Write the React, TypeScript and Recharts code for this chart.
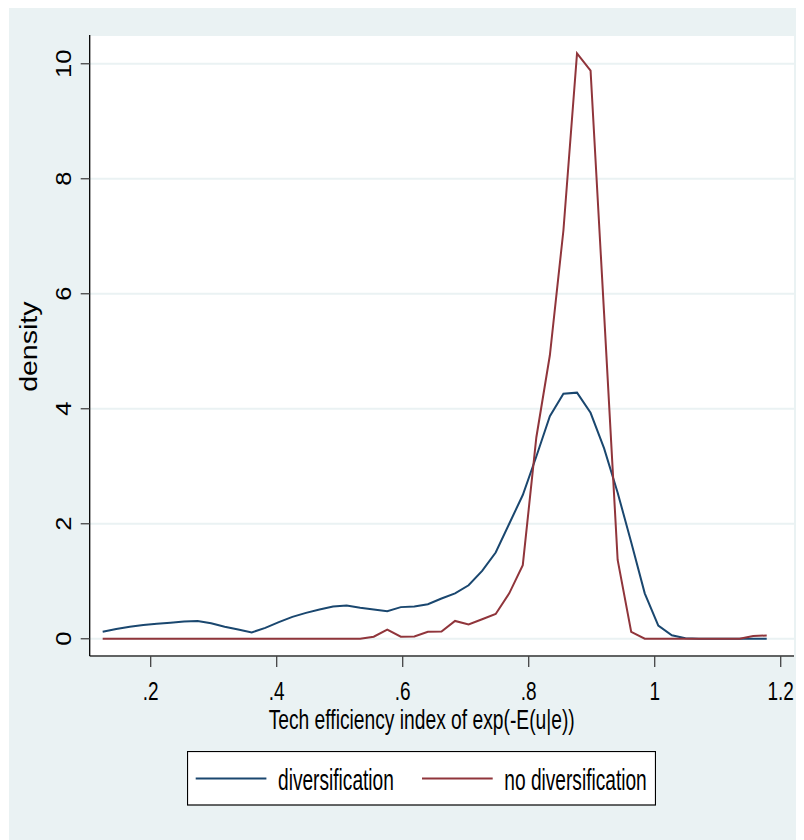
import React from 'react';
import { LineChart, Line, XAxis, YAxis, CartesianGrid, Legend, Label } from 'recharts';

// ---- data ----
const X_VALUES = [
  0.1238, 0.1453, 0.1668, 0.1883, 0.2098, 0.2314, 0.2529, 0.2744, 0.2959, 0.3174,
  0.3389, 0.3604, 0.3819, 0.4034, 0.4249, 0.4465, 0.468, 0.4895, 0.511, 0.5325,
  0.554, 0.5755, 0.597, 0.6185, 0.64, 0.6616, 0.6831, 0.7046, 0.7261, 0.7476,
  0.7691, 0.7906, 0.8121, 0.8336, 0.8551, 0.8767, 0.8982, 0.9197, 0.9412, 0.9627,
  0.9842, 1.0057, 1.0272, 1.0487, 1.0702, 1.0918, 1.1133, 1.1348, 1.1563, 1.1778,
];

const DIVERSIFICATION = [
  0.12, 0.17, 0.21, 0.24, 0.26, 0.28, 0.3, 0.31, 0.27, 0.21,
  0.16, 0.11, 0.19, 0.29, 0.38, 0.45, 0.51, 0.56, 0.58, 0.54,
  0.51, 0.48, 0.55, 0.56, 0.6, 0.7, 0.79, 0.93, 1.18, 1.5,
  2.0, 2.5, 3.17, 3.87, 4.26, 4.28, 3.93, 3.31, 2.54, 1.68,
  0.79, 0.23, 0.06, 0.01, 0, 0, 0, 0, 0, 0,
];

const NO_DIVERSIFICATION = [
  0, 0, 0, 0, 0, 0, 0, 0, 0, 0,
  0, 0, 0, 0, 0, 0, 0, 0, 0, 0,
  0.035, 0.16, 0.035, 0.04, 0.12, 0.125, 0.31, 0.25, 0.34, 0.43,
  0.79, 1.28, 3.5, 4.93, 7.1, 10.18, 9.88, 5.65, 1.37, 0.12,
  0, 0, 0, 0, 0, 0, 0, 0, 0.046, 0.058,
];

const SERIES_NAMES = ['diversification', 'no diversification'];
const X_TICKS = [0.2, 0.4, 0.6, 0.8, 1, 1.2];
const X_TICK_LABELS = ['.2', '.4', '.6', '.8', '1', '1.2'];
const Y_TICKS = [0, 2, 4, 6, 8, 10];
const Y_TICK_LABELS = ['0', '2', '4', '6', '8', '10'];
const X_TITLE = 'Tech efficiency index of exp(-E(u|e))';
const Y_TITLE = 'density';

const data = X_VALUES.map((x, i) => ({
  x,
  div: DIVERSIFICATION[i],
  nodiv: NO_DIVERSIFICATION[i],
}));

// ---- style ----
const W = 795;
const H = 835;
const BG = '#eaf2f3';
const BLUE = '#1a476f';
const RED = '#90353b';
const FONT = '"Liberation Sans", Arial, Helvetica, sans-serif';
const PLOT_LEFT = 80.7;
const PLOT_BOTTOM = 651;

const XTick = (props: any) => {
  const { x, payload } = props;
  const idx = X_TICKS.indexOf(payload.value);
  const label = idx >= 0 ? X_TICK_LABELS[idx] : String(payload.value);
  return (
    <g transform={`translate(${x},${PLOT_BOTTOM + 43.5})`}>
      <text transform={`scale(0.73,1)`} textAnchor="middle" fontFamily={FONT} fontSize={26} fill="#000">
        {label}
      </text>
    </g>
  );
};

const YTick = (props: any) => {
  const { y, payload } = props;
  const idx = Y_TICKS.indexOf(payload.value);
  const label = idx >= 0 ? Y_TICK_LABELS[idx] : String(payload.value);
  return (
    <g transform={`translate(${PLOT_LEFT - 19},${y})`}>
      <text transform={`scale(0.85,1) rotate(-90)`} textAnchor="middle" fontFamily={FONT} fontSize={25.5} fill="#000">
        {label}
      </text>
    </g>
  );
};

const XTitle = () => (
  <g transform={`translate(412.7,723.8)`}>
    <text transform={`scale(0.7,1)`} textAnchor="middle" fontFamily={FONT} fontSize={27.5} fill="#000">
      {X_TITLE}
    </text>
  </g>
);

const YTitle = () => (
  <g transform={`translate(27.7,341.7)`}>
    <text transform={`scale(0.82,1) rotate(-90)`} textAnchor="middle" fontFamily={FONT} fontSize={28.5} fill="#000">
      {Y_TITLE}
    </text>
  </g>
);

const LEGEND_ITEM_X = [8.7, 235];

const renderLegend = (props: any) => {
  const payload = props.payload || [];
  return (
    <svg width={469} height={55} style={{ display: 'block' }}>
      <rect x={0.5} y={0.5} width={468} height={53.5} fill="#fff" stroke="#000" strokeWidth={1.2} />
      {payload.map((p: any, i: number) => {
        const x0 = LEGEND_ITEM_X[i] ?? 8.7 + i * 226;
        return (
          <g key={i}>
            <line x1={x0} x2={x0 + 70.7} y1={27.6} y2={27.6} stroke={p.color} strokeWidth={2} />
            <g transform={`translate(${x0 + 82.3},38.8)`}>
              <text transform={`scale(0.66,1)`} fontFamily={FONT} fontSize={29} fill="#000">
                {p.value}
              </text>
            </g>
          </g>
        );
      })}
    </svg>
  );
};

export default function App() {
  return (
    <div style={{ marginLeft: 1, marginTop: -3, width: W, height: H, background: BG, position: 'relative' }}>
      <LineChart
        width={W}
        height={H}
        data={data}
        margin={{ top: 30, right: 10, left: 0, bottom: 124 }}
      >
        <CartesianGrid
          vertical={false}
          horizontal={true}
          stroke={BG}
          strokeWidth={2}
          fill="#ffffff"
          fillOpacity={1}
        />
        <XAxis
          type="number"
          dataKey="x"
          domain={[0.1032, 1.2211]}
          allowDataOverflow
          ticks={X_TICKS}
          tick={<XTick />}
          tickSize={11}
          tickLine={{ stroke: '#444', strokeWidth: 1.3 }}
          axisLine={{ stroke: '#333', strokeWidth: 1.3 }}
          height={60}
          interval={0}
        >
          <Label content={<XTitle />} />
        </XAxis>
        <YAxis
          type="number"
          domain={[-0.3, 10.5]}
          allowDataOverflow
          ticks={Y_TICKS}
          tick={<YTick />}
          tickSize={9}
          tickLine={{ stroke: '#444', strokeWidth: 1.3 }}
          axisLine={{ stroke: '#000', strokeWidth: 1.3 }}
          width={PLOT_LEFT}
          interval={0}
        >
          <Label content={<YTitle />} />
        </YAxis>
        <Legend
          layout="horizontal"
          verticalAlign="middle"
          align="center"
          content={renderLegend}
          wrapperStyle={{ position: 'absolute', left: 178.3, top: 745.7, width: 469, height: 55, bottom: 'auto', right: 'auto' }}
        />
        <Line
          type="linear"
          dataKey="div"
          name={SERIES_NAMES[0]}
          stroke={BLUE}
          strokeWidth={2}
          dot={false}
          activeDot={false}
          isAnimationActive={false}
        />
        <Line
          type="linear"
          dataKey="nodiv"
          name={SERIES_NAMES[1]}
          stroke={RED}
          strokeWidth={2}
          dot={false}
          activeDot={false}
          isAnimationActive={false}
        />
      </LineChart>
    </div>
  );
}
